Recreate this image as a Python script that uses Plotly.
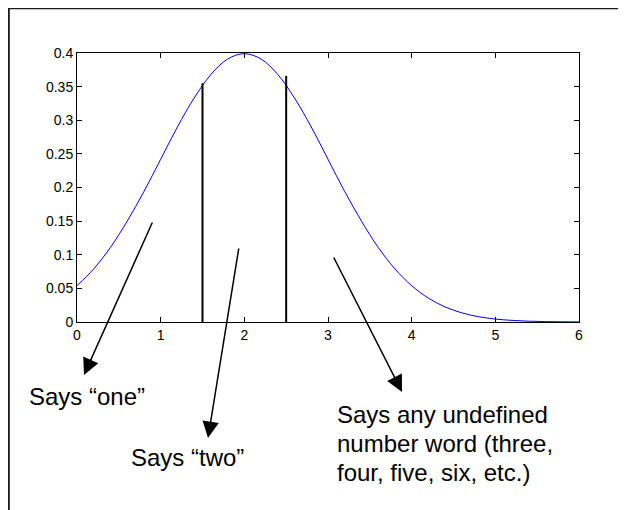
import plotly.graph_objects as go

# Curve values (x step 0.2 from 0 to 6)
curve_x = [0.0, 0.2, 0.4, 0.6, 0.8, 1.0, 1.2, 1.4, 1.6, 1.8, 2.0,
           2.2, 2.4, 2.6, 2.8, 3.0, 3.2, 3.4, 3.6, 3.8, 4.0,
           4.2, 4.4, 4.6, 4.8, 5.0, 5.2, 5.4, 5.6, 5.8, 6.0]
curve_y = [0.054, 0.079, 0.111, 0.150, 0.194, 0.242, 0.290, 0.333, 0.368, 0.391, 0.399,
           0.391, 0.368, 0.333, 0.290, 0.242, 0.194, 0.150, 0.111, 0.079, 0.054,
           0.0355, 0.0224, 0.0136, 0.0079, 0.0044, 0.0024, 0.0012, 0.0006, 0.0003, 0.0001]

# Vertical divider lines
divider_x = [1.5, 2.5]
divider_top = [0.355, 0.366]

x_ticks = [0, 1, 2, 3, 4, 5, 6]
x_tick_labels = ["0", "1", "2", "3", "4", "5", "6"]
y_ticks = [0, 0.05, 0.1, 0.15, 0.2, 0.25, 0.3, 0.35, 0.4]
y_tick_labels = ["0", "0.05", "0.1", "0.15", "0.2", "0.25", "0.3", "0.35", "0.4"]

label_one = "Says \u201cone\u201d"
label_two = "Says \u201ctwo\u201d"
label_other_lines = ["Says any undefined", "number word (three,", "four, five, six, etc.)"]

FONT = "Liberation Sans, Arial, sans-serif"

fig = go.Figure()
fig.add_trace(go.Scatter(x=curve_x, y=curve_y, mode="lines", line=dict(color="#0000ff", width=1, shape="spline"),
                         showlegend=False, hoverinfo="skip"))
for dx, dt in zip(divider_x, divider_top):
    fig.add_trace(go.Scatter(x=[dx, dx], y=[0, dt], mode="lines", line=dict(color="black", width=2),
                             showlegend=False, hoverinfo="skip"))

# page has an 8px body margin; figure is sized to fit the window
OFF = 8
W, H = 618, 502
L, R, T, B = 69, 47, 45, 188
pw, ph = W - L - R, H - T - B

def px(x):
    return (x - OFF - L) / pw

def py(y):
    return (H - B - (y - OFF)) / ph

# Outer frame
fig.add_shape(type="rect", xref="paper", yref="paper",
              x0=px(8.8), y0=py(540), x1=px(660), y1=py(8.3),
              line=dict(color="#1a1a1a", width=2), fillcolor="rgba(0,0,0,0)", layer="above")

arrows = [((84, 375), (153, 221)), ((208, 438), (239, 247)), ((402, 392), (333, 256))]
for (hx, hy), (tx, ty) in arrows:
    fig.add_annotation(xref="paper", yref="paper", x=px(hx), y=py(hy),
                       ax=tx - hx, ay=ty - hy, axref="pixel", ayref="pixel",
                       text="", showarrow=True, arrowhead=2, arrowsize=2.2,
                       arrowwidth=1.5, arrowcolor="black")

texts = [(label_one, 27, 396), (label_two, 129, 457)]
for i, line in enumerate(label_other_lines):
    texts.append((line, 335, 414 + 29 * i))
for t, tx, ty in texts:
    fig.add_annotation(xref="paper", yref="paper", x=px(tx), y=py(ty), text=t,
                       showarrow=False, xanchor="left", yanchor="middle", align="left",
                       font=dict(family=FONT, size=24, color="black"))

fig.update_xaxes(range=[0, 6], tickvals=x_ticks, ticktext=x_tick_labels,
                 showline=True, linecolor="black", linewidth=1, mirror="ticks",
                 ticks="inside", ticklen=5, tickcolor="black", showgrid=False, zeroline=False,
                 tickfont=dict(family=FONT, size=14, color="black"))
fig.update_yaxes(range=[0, 0.4], tickvals=y_ticks, ticktext=y_tick_labels,
                 showline=True, linecolor="black", linewidth=1, mirror="ticks",
                 ticks="inside", ticklen=5, tickcolor="black", showgrid=False, zeroline=False,
                 tickfont=dict(family=FONT, size=14, color="black"))

fig.update_layout(width=W, height=H, margin=dict(l=L, r=R, t=T, b=B),
                  plot_bgcolor="white", paper_bgcolor="white")

fig.write_html("out.html")
